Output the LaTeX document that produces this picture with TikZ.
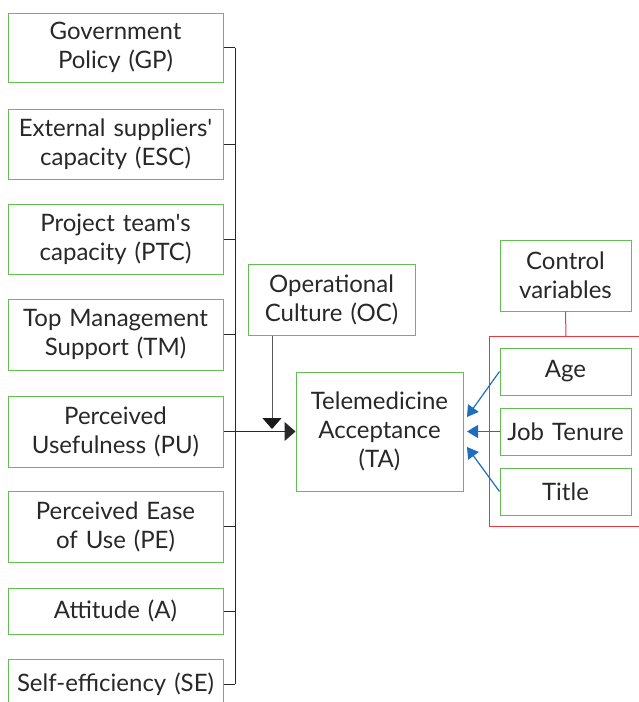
\documentclass[tikz,border=0pt]{standalone}
\usepackage{fontspec}
\setmainfont{Lato}[Ligatures=TeXOff]
\usepackage{tikz}
\usetikzlibrary{arrows.meta,positioning}
\usepackage{xcolor}
\definecolor{boxgreen}{RGB}{98,190,82}
\definecolor{ctrlred}{RGB}{232,56,68}
\definecolor{arrowblue}{RGB}{30,110,190}
\definecolor{textgrey}{RGB}{40,40,40}

\begin{document}
\begin{tikzpicture}[x=1pt,y=-1pt,line width=1pt]
	\useasboundingbox (0,0) rectangle (639,702);
	\begin{scope}[every node/.style={rectangle,draw=boxgreen,align=center,text=textgrey,inner xsep=3pt,font=\fontsize{24}{29}\selectfont}]
		\node[minimum width=215pt,minimum height=69pt,text width=209pt] (GP) at (115.5,47.5) {Government\\Policy (GP)};
		\node[minimum width=215pt,minimum height=70pt,text width=209pt] (ESC) at (115.5,144) {External suppliers'\\capacity (ESC)};
		\node[minimum width=215pt,minimum height=70pt,text width=209pt] (PTC) at (115.5,239) {Project team's\\capacity (PTC)};
		\node[minimum width=215pt,minimum height=71pt,text width=209pt] (TM) at (115.5,334.5) {Top Management\\Support (TM)};
		\node[minimum width=215pt,minimum height=71pt,text width=209pt] (PU) at (115.5,431.5) {Perceived\\Usefulness (PU)};
		\node[minimum width=215pt,minimum height=71pt,text width=209pt] (PE) at (115.5,526.5) {Perceived Ease\\of Use (PE)};
		\node[minimum width=215pt,minimum height=46pt,text width=209pt] (A) at (115.5,611) {Attitude (A)};
		\node[minimum width=215pt,minimum height=50pt,text width=209pt] (SE) at (115.5,684) {Self-efficiency (SE)};
		\node[minimum width=167pt,minimum height=71pt,text width=161pt] (OC) at (331.5,299.5) {Operational\\Culture (OC)};
		\node[minimum width=167pt,minimum height=119pt,text width=161pt] (TA) at (379.5,431.5) {Telemedicine\\Acceptance\\(TA)};
		\node[minimum width=131pt,minimum height=71pt,text width=125pt] (CV) at (565.5,275.5) {Control\\variables};
		\node[minimum width=131pt,minimum height=47pt,text width=125pt] (Age) at (565.5,371.5) {Age};
		\node[minimum width=131pt,minimum height=47pt,text width=125pt] (JT) at (565.5,431.5) {Job Tenure};
		\node[minimum width=131pt,minimum height=47pt,text width=125pt] (Title) at (565.5,491.5) {Title};
	\end{scope}
	% bus on the left
	\coordinate (bustop) at (235,47.5);
	\coordinate (busbot) at (235,684);
	\draw[textgrey] (bustop) -- (busbot);
	\foreach \n in {GP,ESC,PTC,TM,PE,A,SE}
		\draw[textgrey] (\n.east) -- (\n.east -| bustop);
	\draw[textgrey,-{Triangle[length=11pt,width=19pt]}] (PU.east) -- (TA.west);
	\coordinate (ocend) at (272,429);
	\draw[black!65,-{Triangle[length=11pt,width=19pt,black!90]}] (OC.south -| ocend) -- (ocend);
	% control variables
	\coordinate (redtop) at (566,336);
	\draw[ctrlred] (CV.south) -- (redtop);
	\draw[ctrlred] (700,336) -- (489,336) -- (489,526) -- (700,526);
	\coordinate (tain1) at (467,417);
	\coordinate (tain3) at (467,447);
	\begin{scope}[arrowblue,line width=1.2pt]
		\draw[-{Triangle[length=11pt,width=13pt]}] (Age.west) -- (tain1);
		\draw[-{Triangle[length=11pt,width=13pt]}] (JT.west) -- (JT.west -| tain1);
		\draw[-{Triangle[length=11pt,width=13pt]}] (Title.west) -- (tain3);
	\end{scope}
\end{tikzpicture}
\end{document}
